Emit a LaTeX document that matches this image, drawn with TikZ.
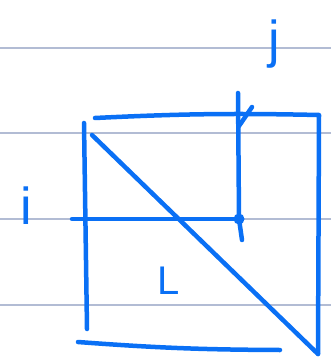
\documentclass[tikz,border=0pt]{standalone}
\usepackage{fontspec}
\setmainfont{Liberation Sans}
\usetikzlibrary{positioning}
\definecolor{xBlue}{RGB}{10,112,245}
\definecolor{xRule}{RGB}{178,188,212}
\tikzset{
  pen/.style={xBlue, line width=4.5pt, line cap=round, line join=round},
  rule/.style={xRule, line width=1.3pt},
  letter/.style={text=xBlue, font=\fontsize{52}{54}\selectfont, inner sep=0pt},
  pin/.style={circle, fill=xBlue, inner sep=0pt, minimum size=11pt},
}

\begin{document}
\begin{tikzpicture}[x=1pt, y=-1pt]
    \useasboundingbox (0,0) rectangle (331,358);
    % notebook rules
    \foreach \y in {48,133,219,305}
      \draw[rule] (0,\y) -- (331,\y);
    % matrix outline
    \coordinate (tl) at (95,118);
    \coordinate (tr) at (319,115);
    \coordinate (br) at (318,354);
    \coordinate (ltop) at (84,123);
    \coordinate (lbot) at (87,329);
    \coordinate (bl) at (78,342);
    \coordinate (bend) at (280,350);
    \coordinate (d0) at (92,135);
    \draw[pen] (tl) to[bend left=2] (tr) -- (br);
    \draw[pen] (ltop) -- (lbot);
    \draw[pen] (bl) to[bend right=2] (bend);
    \draw[pen] (d0) -- (br);
    % row i, column j
    \node[pin] (ij) at (239,219) {};
    \coordinate (jtop) at (238,93);
    \coordinate (jbot) at (242,240);
    \coordinate (i0) at (72,219);
    \coordinate (t0) at (239,126);
    \coordinate (t1) at (252,107);
    \draw[pen] (jtop) -- (ij.center) -- (jbot);
    \draw[pen] (t0) -- (t1);
    \draw[pen] (i0) -- (ij.center);
    \node[letter] (i) at (26,206) {i};
    \node[letter] (j) at (274,44) {j};
    \node[letter, font=\fontsize{40}{42}\selectfont] (L) at (169,281) {L};
  \end{tikzpicture}
\end{document}
